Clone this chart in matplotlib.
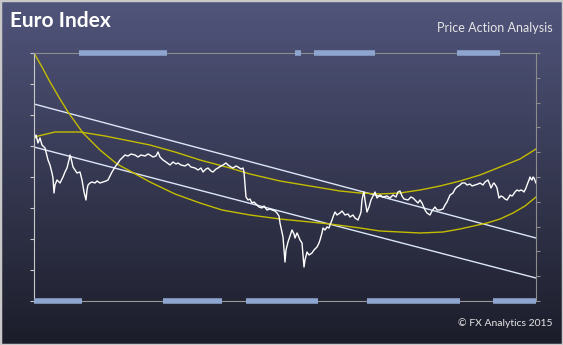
import matplotlib
matplotlib.use('Agg')
import matplotlib.pyplot as plt
import numpy as np
from matplotlib.colors import LinearSegmentedColormap

# Cours de l'indice (jour, niveau)
days = [0, 2, 4, 6, 8, 11, 14, 16, 18, 19, 20, 21, 23, 26, 29, 31, 33, 35, 36, 37,
        39, 41, 43, 46, 48, 50, 52, 53, 54, 56, 58, 61, 63, 66, 69, 72, 74, 76, 78, 81,
        84, 86, 89, 91, 94, 97, 101, 104, 107, 111, 114, 116, 119, 122, 124, 126, 129, 132, 136, 139,
        142, 144, 147, 151, 154, 157, 161, 164, 167, 169, 172, 174, 177, 179, 182, 184, 187, 189, 192, 194,
        197, 199, 202, 204, 207, 209, 210, 211, 212, 214, 216, 218, 220, 223, 225, 228, 230, 233, 236, 238,
        241, 243, 245, 246, 248, 249, 250, 251, 252, 254, 256, 258, 260, 261, 263, 264, 266, 268, 269, 270,
        271, 273, 275, 278, 280, 283, 285, 286, 288, 289, 291, 293, 295, 296, 298, 299, 301, 303, 306, 308,
        311, 314, 316, 319, 321, 324, 326, 327, 328, 329, 330, 331, 333, 335, 337, 339, 341, 343, 346, 349,
        353, 356, 359, 362, 364, 366, 368, 370, 374, 377, 379, 382, 384, 386, 388, 391, 393, 396, 398, 401,
        403, 406, 409, 411, 413, 416, 419, 421, 423, 426, 428, 431, 433, 436, 438, 441, 444, 446, 449, 451,
        454, 456, 457, 459, 460, 462, 463, 465, 467, 469, 471, 473, 475, 476, 478, 479, 481, 483, 485, 487,
        489, 490, 492, 493, 495, 496, 497, 498, 499, 500, 502]
price = [161, 166, 158, 163, 156, 153, 141, 136, 128, 123, 108, 116, 121, 118, 124, 129, 133, 141, 146, 143,
         134, 131, 128, 129, 121, 109, 101, 111, 116, 118, 119, 118, 120, 118, 119, 120, 121, 125, 129, 134,
         138, 141, 144, 146, 145, 147, 146, 144, 146, 145, 147, 146, 144, 145, 149, 144, 141, 139, 136, 139,
         137, 138, 136, 135, 137, 134, 133, 131, 133, 129, 132, 133, 130, 129, 132, 133, 135, 136, 138, 136,
         134, 133, 135, 134, 132, 133, 129, 116, 104, 101, 102, 98, 99, 96, 94, 93, 95, 91, 92, 91,
         90, 88, 85, 78, 69, 64, 51, 39, 51, 59, 65, 71, 67, 63, 68, 66, 61, 58, 46, 34,
         41, 49, 46, 48, 51, 54, 58, 61, 68, 73, 71, 74, 73, 76, 81, 84, 89, 86, 88, 90,
         86, 87, 84, 86, 83, 81, 86, 89, 101, 106, 109, 101, 89, 94, 101, 105, 109, 103, 106, 104,
         105, 103, 106, 104, 109, 110, 105, 102, 101, 104, 103, 100, 98, 101, 98, 91, 88, 86, 90, 94,
         91, 91, 92, 96, 99, 106, 108, 112, 114, 116, 118, 118, 116, 117, 115, 116, 117, 118, 116, 119,
         121, 116, 113, 117, 118, 115, 113, 103, 105, 104, 102, 101, 104, 106, 105, 106, 109, 111, 110, 111,
         110, 109, 113, 116, 121, 124, 122, 121, 124, 123, 118]

# Tendances polynomiales (jaunes)
trend_days_up = [0, 21, 46, 71, 91, 116, 141, 166, 196, 216, 246, 276, 306, 326, 346, 366, 386, 406, 426, 446, 466, 486, 502]
trend_up = [164, 169, 169, 165, 161, 156, 149, 141, 133, 127, 120, 115, 110, 108, 107, 108, 111, 115, 120, 126, 134, 142, 152]
trend_days_low = [0, 8, 16, 26, 34, 49, 66, 83, 96, 116, 141, 166, 188, 216, 246, 276, 296, 326, 346, 366, 386, 409, 426, 453, 466, 479, 491, 502]
trend_low = [248, 234, 219, 202, 189, 168, 151, 137, 130, 119, 107, 98, 91, 86, 82, 79, 77, 73, 70, 69, 68, 69, 72, 78, 82, 88, 95, 104]

# Canal baissier (deux droites)
channel_days = [0, 502]
channel_up = [197, 63]
channel_low = [154, 23]

# Périodes marquées en haut et en bas
top_periods = [(45, 133), (261, 267), (280, 341), (423, 466)]
bottom_periods = [(0, 48), (129, 188), (212, 284), (333, 426), (459, 502)]

fig = plt.figure(figsize=(5.63, 3.45), dpi=100)

# Fond dégradé
bg = fig.add_axes([0, 0, 1, 1], zorder=-10)
grad = np.linspace(0, 1, 256).reshape(-1, 1)
cmap = LinearSegmentedColormap.from_list('bg', ['#51557b', '#1c1d2a'])
bg.imshow(grad, aspect='auto', cmap=cmap, extent=[0, 1, 0, 1])
bg.set_xlim(0, 1)
bg.set_ylim(0, 1)
bg.axis('off')
bg.add_patch(plt.Rectangle((0, 0), 1, 1, fill=False, edgecolor='#c8c8c8', lw=2.5,
                           transform=bg.transAxes))

ax = fig.add_axes([34 / 563, 1 - 301 / 345, 502 / 563, 248 / 345])
ax.set_facecolor('none')

ax.plot(channel_days, channel_up, color='#dce6f8', lw=1.0)
ax.plot(channel_days, channel_low, color='#dce6f8', lw=1.0)
ax.plot(trend_days_up, trend_up, color='#c4bc00', lw=1.0)
ax.plot(trend_days_low, trend_low, color='#c4bc00', lw=1.0)
ax.plot(days, price, color='white', lw=1.0)

ax.set_xlim(0, 502)
ax.set_ylim(0, 248)

for s, e in top_periods:
    ax.plot([s, e], [248, 248], color='#8ea6cf', lw=4, solid_capstyle='butt', clip_on=False, zorder=5)
for s, e in bottom_periods:
    ax.plot([s, e], [0, 0], color='#8ea6cf', lw=4, solid_capstyle='butt', clip_on=False, zorder=5)

ax.set_xticks([])
ax.set_yticks(np.arange(0, 249, 31))
ax.tick_params(axis='y', direction='out', length=3, color='#c8c8c8', labelleft=False)
ax.spines['left'].set_color('#c8c8c8')
ax.spines['top'].set_color('#8c8c8c')
ax.spines['bottom'].set_color('#9a9a9a')
ax.spines['right'].set_color('#8c8c8c')

ax2 = ax.twinx()
ax2.set_ylim(0, 10)
ax2.set_yticks(np.arange(0, 11, 1))
ax2.tick_params(axis='y', direction='out', length=3, color='#8c8c8c', labelright=False)
for sp in ax2.spines.values():
    sp.set_visible(False)

fig.text(10 / 563, 1 - 21 / 345, 'Euro Index', color='white', fontsize=15,
         fontweight='bold', family='Lato', va='center', ha='left')
fig.text(553 / 563, 1 - 28 / 345, 'Price Action Analysis', color='#e6e6e6', fontsize=9,
         family='Lato', va='center', ha='right')
fig.text(553 / 563, 1 - 323 / 345, '\u00a9 FX Analytics 2015', color='#e6e6e6', fontsize=7.5,
         family='Lato', va='center', ha='right')

fig.savefig('out.png', dpi=100)
